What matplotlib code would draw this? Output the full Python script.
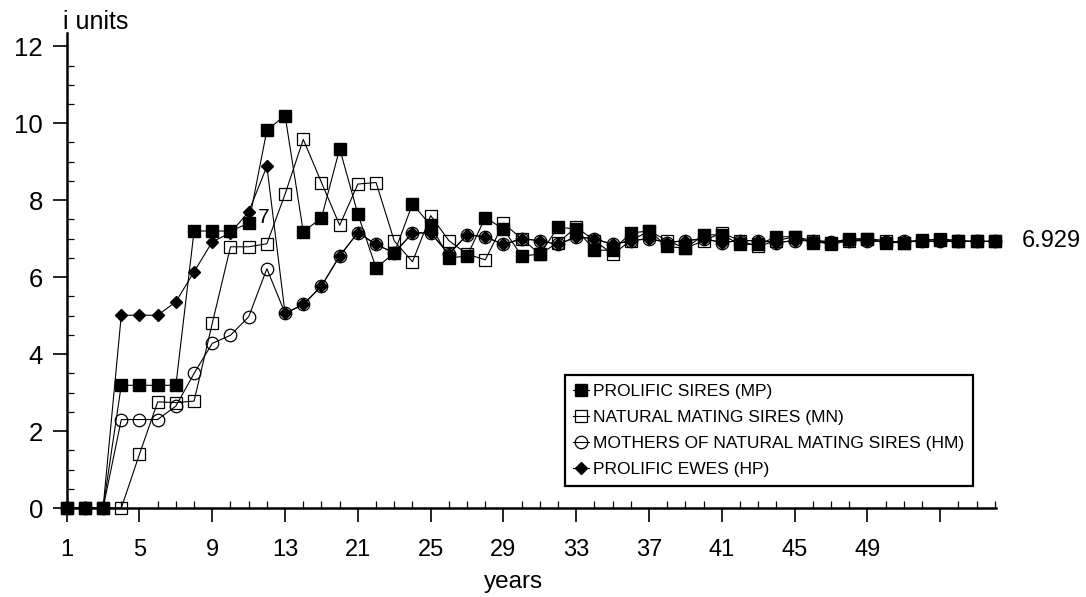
import matplotlib.pyplot as plt
import numpy as np
from matplotlib.ticker import FixedLocator, MultipleLocator

plt.rcParams['font.family'] = ['Liberation Sans', 'DejaVu Sans']

# years 1..52
years = np.arange(1, 53)

# prolific sires (MP)
mp = [0, 0, 0, 3.19, 3.19, 3.19, 3.19, 7.2, 7.2, 7.2, 7.4, 9.82, 10.2, 7.18, 7.54,
      9.34, 7.64, 6.24, 6.63, 7.9, 7.35, 6.5, 6.55, 7.55, 7.25, 6.55, 6.6, 7.3, 7.25,
      6.7, 6.7, 7.15, 7.2, 6.8, 6.75, 7.1, 7.1, 6.85, 6.85, 7.05, 7.05, 6.9, 6.9,
      7.0, 7.0, 6.9, 6.9, 6.97, 6.97, 6.93, 6.93, 6.93]
# natural mating sires (MN)
mn = [0, 0, 0, 0, 1.40, 2.76, 2.74, 2.78, 4.80, 6.79, 6.79, 6.87, 8.16, 9.58, 8.46,
      7.35, 8.42, 8.46, 6.94, 6.4, 7.6, 6.95, 6.6, 6.45, 7.4, 7.0, 6.6, 6.9, 7.3,
      6.95, 6.6, 6.95, 7.2, 6.95, 6.75, 6.95, 7.15, 6.95, 6.8, 6.95, 7.05, 6.95,
      6.85, 6.95, 7.0, 6.95, 6.9, 6.95, 7.0, 6.95, 6.93, 6.93]
# mothers of natural mating sires (HM)
hm = [0, 0, 0, 2.30, 2.30, 2.30, 2.65, 3.5, 4.28, 4.49, 4.97, 6.22, 5.06, 5.29, 5.77,
      6.55, 7.16, 6.85, 6.63, 7.15, 7.15, 6.6, 7.1, 7.05, 6.85, 7.0, 6.95, 6.85, 7.05,
      7.0, 6.85, 6.95, 7.0, 6.9, 6.95, 7.0, 6.9, 6.95, 6.95, 6.9, 6.95, 6.95, 6.92,
      6.95, 6.95, 6.92, 6.93, 6.94, 6.93, 6.93, 6.93, 6.93]
# prolific ewes (HP)
hp = [0, 0, 0, 5.01, 5.01, 5.01, 5.36, 6.14, 6.92, 7.15, 7.70, 8.88, 5.06, 5.29, 5.77,
      6.55, 7.16, 6.85, 6.63, 7.15, 7.15, 6.6, 7.1, 7.05, 6.85, 7.0, 6.95, 6.85, 7.05,
      7.0, 6.85, 6.95, 7.0, 6.9, 6.95, 7.0, 6.9, 6.95, 6.95, 6.9, 6.95, 6.95, 6.92,
      6.95, 6.95, 6.92, 6.93, 6.94, 6.93, 6.93, 6.93, 6.93]

names = ['PROLIFIC SIRES (MP)', 'NATURAL MATING SIRES (MN)',
         'MOTHERS OF NATURAL MATING SIRES (HM)', 'PROLIFIC EWES (HP)']

tick_pos = [1, 5, 9, 13, 17, 21, 25, 29, 33, 37, 41, 45, 49]
tick_lab = ['1', '5', '9', '13', '21', '25', '29', '33', '37', '41', '45', '49', '']

fig = plt.figure(figsize=(10.86, 5.97), dpi=100)
ax = fig.add_axes([0.0614, 0.149, 0.8557, 0.796])

kw = dict(color='black', lw=0.8, clip_on=False)
ax.plot(years, mp, marker='s', ms=8, mfc='black', mec='black', label=names[0], **kw)
ax.plot(years, mn, marker='s', ms=8.5, mfc='none', mec='black', mew=0.9, label=names[1], **kw)
ax.plot(years, hm, marker='o', ms=9, mfc='none', mec='black', mew=0.9, label=names[2], **kw)
ax.plot(years, hp, marker='D', ms=6.5, mfc='black', mec='black', label=names[3], **kw)

ax.set_xlim(1, 52.06)
ax.set_ylim(0, 12.35)

ax.xaxis.set_major_locator(FixedLocator(tick_pos))
ax.set_xticklabels(tick_lab)
ax.xaxis.set_minor_locator(MultipleLocator(1))
ax.set_yticks([0, 2, 4, 6, 8, 10, 12])
ax.yaxis.set_minor_locator(MultipleLocator(0.5))

ax.tick_params(axis='x', which='major', direction='out', length=10, width=1.2,
               labelsize=17, pad=12)
ax.tick_params(axis='x', which='minor', direction='in', length=5, width=0.9)
ax.tick_params(axis='y', which='major', direction='out', length=10, width=1.2,
               labelsize=18.5, pad=7)
ax.tick_params(axis='y', which='minor', direction='in', length=5, width=0.9)

for s in ['top', 'right']:
    ax.spines[s].set_visible(False)
for s in ['left', 'bottom']:
    ax.spines[s].set_linewidth(1.8)

ax.text(11.5, 7.55, '7', fontsize=15, va='center', ha='left')
ax.text(53.5, 6.929, '6.929', fontsize=17, va='center', ha='left', clip_on=False)

fig.text(63 / 1086, 1 - 22 / 597, 'i units', fontsize=18, va='center', ha='left')
fig.text(514 / 1086, 1 - 582 / 597, 'years', fontsize=17.5, va='center', ha='center')

leg = ax.legend(loc='upper left', bbox_to_anchor=(0.52, 0.372),
                bbox_transform=fig.transFigure, borderaxespad=0,
                fontsize=12.5, handlelength=0.9, handletextpad=0.25,
                borderpad=0.5, labelspacing=0.63, fancybox=False, framealpha=1)
leg.get_frame().set_edgecolor('black')
leg.get_frame().set_linewidth(1.6)

fig.savefig('out.png', dpi=100)
